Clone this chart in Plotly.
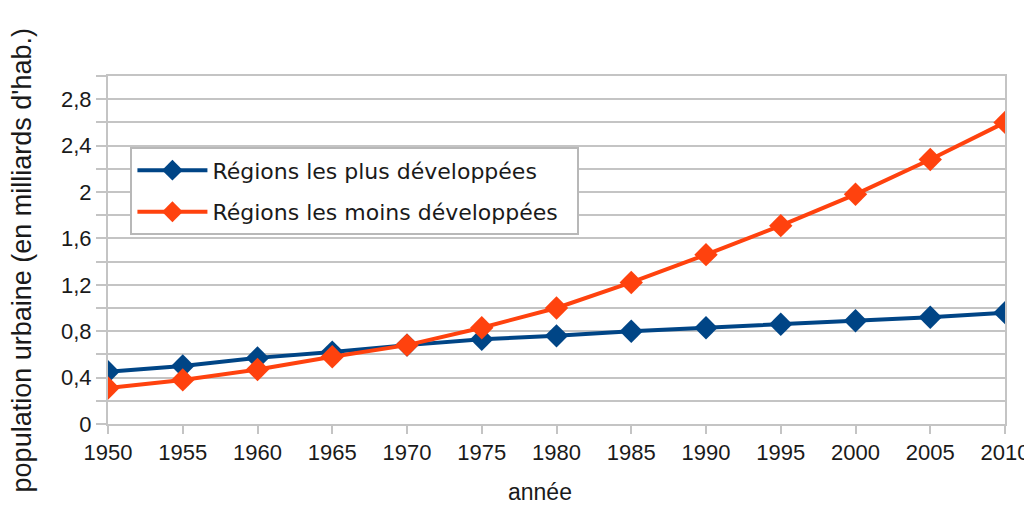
import plotly.graph_objects as go

years = [1950, 1955, 1960, 1965, 1970, 1975, 1980, 1985, 1990, 1995, 2000, 2005, 2010]
plus_dev = [0.45, 0.50, 0.57, 0.62, 0.68, 0.73, 0.76, 0.80, 0.83, 0.86, 0.89, 0.92, 0.96]
moins_dev = [0.31, 0.38, 0.47, 0.58, 0.68, 0.83, 1.00, 1.22, 1.46, 1.71, 1.98, 2.28, 2.60]
y_tickvals = [0, 0.2, 0.4, 0.6, 0.8, 1.0, 1.2, 1.4, 1.6, 1.8, 2.0, 2.2, 2.4, 2.6, 2.8, 3.0]
y_ticktext = ["0", "", "0,4", "", "0,8", "", "1,2", "", "1,6", "", "2", "", "2,4", "", "2,8", ""]

fig = go.Figure()
fig.add_trace(go.Scatter(
    x=years, y=plus_dev, mode="lines+markers", name="Régions les plus développées\u00a0\u00a0",
    legendgroup="a",
    line=dict(color="#004586", width=4),
    marker=dict(symbol="diamond", size=18, color="#004586")))
fig.add_trace(go.Scatter(
    x=years, y=moins_dev, mode="lines+markers", name="Régions les moins développées\u00a0\u00a0",
    legendgroup="b",
    line=dict(color="#ff420e", width=4),
    marker=dict(symbol="diamond", size=18, color="#ff420e")))

grid = "#c4c4c4"
txt = "#1a1a1a"
# page body has an 8px default margin: compensate so the plot sits where the reference does
fig.update_layout(
    width=1024, height=507,
    margin=dict(l=100, r=27, t=68, b=91),
    paper_bgcolor="white", plot_bgcolor="white",
    font=dict(family="Liberation Sans, Arial, sans-serif", color=txt),
    showlegend=True,
    legend=dict(x=0.025, y=0.795, xanchor="left", yanchor="top",
                bgcolor="white", bordercolor="#b8b8b8", borderwidth=2,
                font=dict(size=22, family="DejaVu Sans, sans-serif", color=txt),
                itemwidth=70, tracegroupgap=10),
    xaxis=dict(range=[1950, 2010], tickvals=years, ticks="outside", ticklen=8,
               tickcolor=grid, tickwidth=2, showgrid=False, showline=True,
               linecolor=grid, linewidth=2, mirror=True, zeroline=False,
               automargin=False, ticklabeloverflow="allow",
               tickfont=dict(size=22, color=txt)),
    yaxis=dict(range=[0, 3.0], tickvals=y_tickvals, ticktext=y_ticktext,
               ticks="outside", ticklen=10, tickcolor=grid, tickwidth=2,
               showgrid=True, gridcolor=grid, gridwidth=2,
               showline=True, linecolor=grid, linewidth=2, mirror=True, zeroline=False,
               automargin=False, ticklabeloverflow="allow",
               tickfont=dict(size=22, color=txt)),
    annotations=[
        dict(text="population urbaine (en milliards d'hab.)", xref="paper", yref="paper",
             x=-0.0959, y=0.47, xanchor="center", yanchor="middle", textangle=-90,
             showarrow=False, font=dict(size=27, color=txt)),
        dict(text="année", xref="paper", yref="paper",
             x=0.4816, y=-0.195, xanchor="center", yanchor="middle",
             showarrow=False, font=dict(size=23, color=txt)),
    ],
)
fig.write_html("out.html")
